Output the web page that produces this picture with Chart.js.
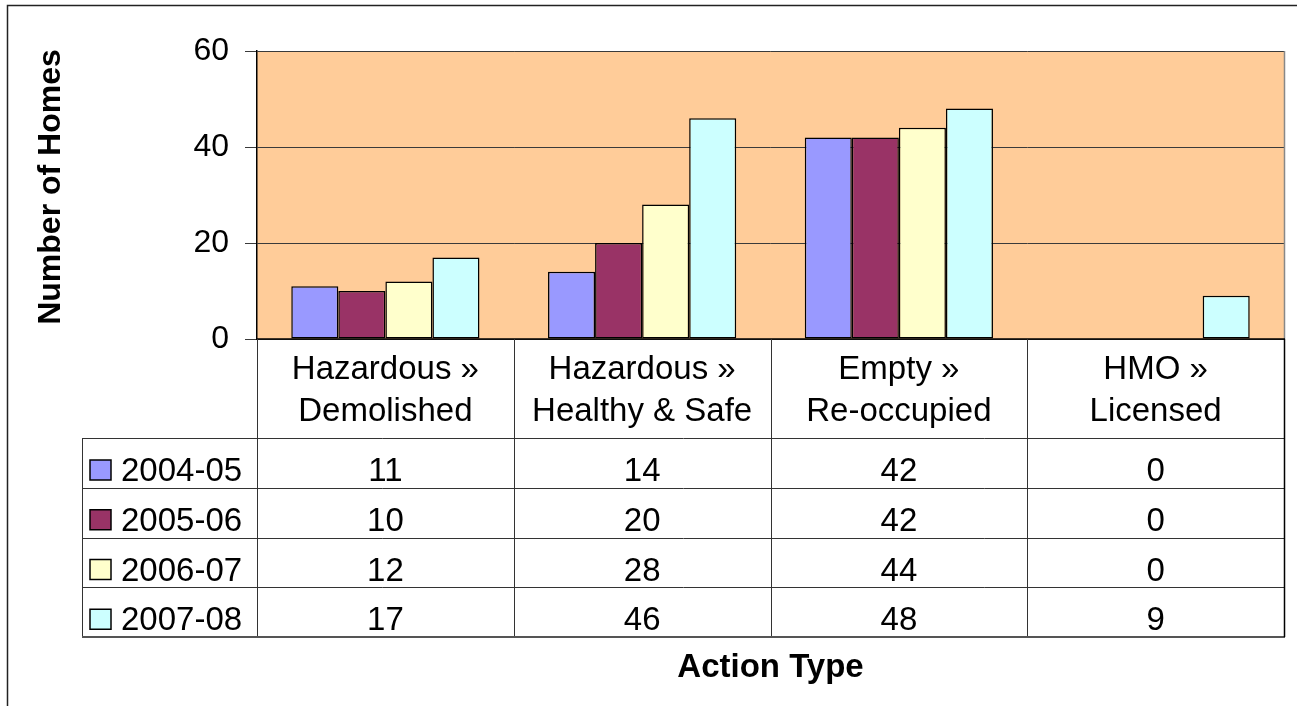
<!DOCTYPE html>
<html>
<head>
<meta charset="utf-8">
<script src="https://cdn.jsdelivr.net/npm/chart.js@4"></script>
<style>
html,body{margin:0;padding:0;background:#fff;}
#wrap{width:1297px;height:706px;position:relative;}
</style>
</head>
<body>
<div id="wrap"><canvas id="c" width="1297" height="706"></canvas></div>
<script>
const categories = [["Hazardous »","Demolished"],["Hazardous »","Healthy & Safe"],["Empty »","Re-occupied"],["HMO »","Licensed"]];
const seriesNames = ["2004-05","2005-06","2006-07","2007-08"];
const s2004 = [11,14,42,0];
const s2005 = [10,20,42,0];
const s2006 = [12,28,44,0];
const s2007 = [17,46,48,9];
const seriesColors = ["#9999FF","#993366","#FFFFCC","#CCFFFF"];
const yTicks = [0,20,40,60];
const yTitle = "Number of Homes";
const xTitle = "Action Type";

const FONT = "'Liberation Sans', Arial, sans-serif";

const deco = {
  id:'deco',
  beforeDraw(chart){
    const {ctx, chartArea:a} = chart;
    ctx.save();
    ctx.fillStyle='#fff';
    ctx.fillRect(0,0,chart.width,chart.height);
    ctx.fillStyle='#FFCC99';
    ctx.fillRect(a.left,a.top,a.right-a.left,a.bottom-a.top);
    ctx.restore();
  },
  afterDraw(chart){
    const {ctx, chartArea:a} = chart;
    const xs = chart.scales.x;
    ctx.save();
    // plot right border
    ctx.strokeStyle='#888';
    ctx.lineWidth=1.5;
    ctx.beginPath();
    ctx.moveTo(a.right+0.5,a.top);ctx.lineTo(a.right+0.5,a.bottom);
    ctx.stroke();
    // baseline
    ctx.strokeStyle='#000';
    ctx.lineWidth=1.5;
    ctx.beginPath();
    ctx.moveTo(a.left,a.bottom);ctx.lineTo(a.right+1,a.bottom);
    ctx.stroke();

    // data table
    const n = categories.length;
    const colW = (a.right - a.left)/n;
    const headTop = a.bottom;
    const rowTop0 = 438;
    const rowH = 49.75;
    const tableBottom = rowTop0 + rowH*seriesNames.length;
    const legLeft = 82;
    ctx.strokeStyle='#333';
    ctx.lineWidth=1;
    ctx.beginPath();
    for(let i=0;i<=n;i++){
      const x = Math.round(a.left + i*colW)+0.5;
      ctx.moveTo(x, headTop); ctx.lineTo(x, tableBottom);
    }
    ctx.moveTo(legLeft+0.5, rowTop0); ctx.lineTo(legLeft+0.5, tableBottom);
    for(let r=0;r<seriesNames.length;r++){
      const y = Math.round(rowTop0 + r*rowH)+0.5;
      ctx.moveTo(legLeft, y); ctx.lineTo(a.right+1, y);
    }
    ctx.stroke();
    ctx.strokeStyle='#555';
    ctx.lineWidth=2;
    ctx.beginPath();
    ctx.moveTo(legLeft, tableBottom); ctx.lineTo(a.right+1, tableBottom);
    ctx.stroke();
    ctx.strokeStyle='#000';
    ctx.lineWidth=1.5;
    ctx.beginPath();
    ctx.moveTo(a.right+0.5, headTop); ctx.lineTo(a.right+0.5, tableBottom);
    ctx.stroke();

    ctx.fillStyle='#000';
    ctx.font = "33px " + FONT;
    ctx.textAlign='center';
    ctx.textBaseline='alphabetic';
    for(let i=0;i<n;i++){
      const cx = xs.getPixelForValue(i);
      const lines = categories[i];
      ctx.fillText(lines[0], cx, 379);
      ctx.fillText(lines[1], cx, 421);
    }
    chart.data.datasets.forEach((ds, r)=>{
      const top = rowTop0 + r*rowH;
      const base = top + 43;
      ctx.textAlign='center';
      ctx.fillStyle='#000';
      ds.data.forEach((v,i)=>{
        ctx.fillText(String(v), xs.getPixelForValue(i), base);
      });
      ctx.fillStyle = ds.backgroundColor;
      ctx.fillRect(90, top+22, 21, 20);
      ctx.strokeStyle='#000';
      ctx.lineWidth=1.5;
      ctx.strokeRect(90, top+22, 21, 20);
      ctx.fillStyle='#000';
      ctx.textAlign='left';
      ctx.fillText(ds.label, 121, base);
    });

    ctx.font = "bold 33px " + FONT;
    ctx.textAlign='center';
    ctx.fillText(xTitle, (a.left+a.right)/2, 677);
    ctx.font = "bold 32px " + FONT;
    ctx.save();
    ctx.translate(60, 187);
    ctx.rotate(-Math.PI/2);
    ctx.fillText(yTitle, 0, 0);
    ctx.restore();

    ctx.strokeStyle='#222';
    ctx.lineWidth=1.5;
    ctx.strokeRect(7.5, 5.5, 1400, 800);
    ctx.restore();
  }
};

const datasets = [s2004,s2005,s2006,s2007].map((d,k)=>({
  label: seriesNames[k],
  data: d,
  backgroundColor: seriesColors[k],
  borderColor:'#000',
  borderWidth:1.5,
  borderSkipped:false,
  categoryPercentage:0.733,
  barPercentage:1.0
}));

new Chart(document.getElementById('c'), {
  type:'bar',
  data:{ labels: categories.map(c=>c.join(' ')), datasets },
  options:{
    responsive:false,
    animation:false,
    devicePixelRatio:1,
    layout:{ padding:{ top:51, right:13, bottom:367, left:0 } },
    plugins:{ legend:{display:false}, tooltip:{enabled:false}, title:{display:false} },
    scales:{
      x:{ display:false, offset:true },
      y:{
        min:0, max:60,
        afterFit(s){ s.width = 257; },
        afterBuildTicks(s){ s.ticks = yTicks.map(v=>({value:v})); },
        ticks:{ color:'#000', font:{ family:FONT, size:32 }, padding:16 },
        grid:{ color:'#3a3a3a', lineWidth:1, tickLength:12, drawTicks:true },
        border:{ display:true, color:'#000', width:1.5 }
      }
    }
  },
  plugins:[deco]
});
</script>
</body>
</html>
